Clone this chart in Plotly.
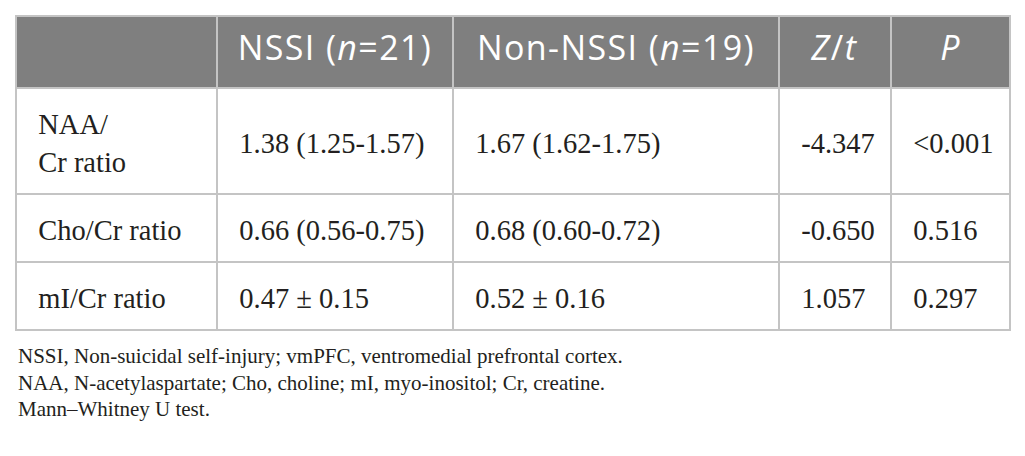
import plotly.graph_objects as go

W, H = 1025, 456

headers = ["", "NSSI (<i>n</i>=21)", "Non-NSSI (<i>n</i>=19)", "<i>Z</i>/<i>t</i>", "<i>P</i>"]
metrics = ["NAA/<br>Cr ratio", "Cho/Cr ratio", "mI/Cr ratio"]
nssi = ["1.38 (1.25-1.57)", "0.66 (0.56-0.75)", "0.47 ± 0.15"]
non_nssi = ["1.67 (1.62-1.75)", "0.68 (0.60-0.72)", "0.52 ± 0.16"]
z_t = ["-4.347", "-0.650", "1.057"]
p_vals = ["<0.001", "0.516", "0.297"]
footnotes = [
    "NSSI, Non-suicidal self-injury; vmPFC, ventromedial prefrontal cortex.",
    "NAA, N-acetylaspartate; Cho, choline; mI, myo-inositol; Cr, creatine.",
    "Mann–Whitney U test.",
]

col_widths = [201, 236, 326, 112, 119]
border = "#c4c4c4"
serif = "Liberation Serif"

# plotly tables put text at the top of a cell, so the text font is tiny and
# each <br> moves the real (span-sized) text down by 1.3*BASE px -> centring
BASE = 38 / 13
GAP = 10  # line steps between two real lines (~38px)


def stacked(slots, style):
    last = max(slots)
    parts = [""] * (last + 1)
    for i, (txt, st) in slots.items():
        parts[i] = f"<span style='{st or style}'>{txt}</span>"
    return "<br>".join(parts)


def body_col(col, row_lines, size=28.5, first=10):
    out = []
    for value, n_row in zip(col, row_lines):
        lines = value.split("<br>")
        start = first + (n_row - len(lines)) * GAP // 2
        slots = {start + GAP * j: ("\u00a0\u00a0" + t, None) for j, t in enumerate(lines)}
        if n_row > 1:  # filler so the tall row keeps some bottom padding
            slots[first + GAP * (n_row - 1) + GAP // 2 + 1] = ("\u00a0", "font-size:20px")
        out.append(stacked(slots, f"font-size:{size}px"))
    return out


columns = [metrics, nssi, non_nssi, z_t, p_vals]
row_lines = [max(c[r].count("<br>") + 1 for c in columns) for r in range(len(metrics))]

header_vals = [stacked({11: (h if h else "\u00a0", None)}, "font-size:34px;letter-spacing:1.4px")
               for h in headers]

fig = go.Figure(go.Table(
    columnwidth=col_widths,
    header=dict(
        values=header_vals,
        fill_color="#7f7f7f",
        line_color=border,
        line_width=1.5,
        align="center",
        height=72,
        font=dict(family="Open Sans", size=BASE, color="white"),
    ),
    cells=dict(
        values=[body_col(c, row_lines) for c in columns],
        fill_color="white",
        line_color=border,
        line_width=1.5,
        align="left",
        height=68,
        font=dict(family=serif, size=BASE, color="#231f20"),
    ),
    domain=dict(x=[0, 1], y=[0, 1 - 8 / H]),
))

for i, line in enumerate(footnotes):
    fig.add_annotation(
        text=line, xref="paper", yref="paper",
        x=0, y=1 - (348 + 26.5 * i) / H,
        xanchor="left", yanchor="middle", showarrow=False,
        font=dict(family=serif, size=21, color="#231f20"),
    )

fig.update_layout(
    width=W, height=H,
    margin=dict(l=8, r=23, t=0, b=0),
    paper_bgcolor="white",
)

fig.write_html("out.html")
